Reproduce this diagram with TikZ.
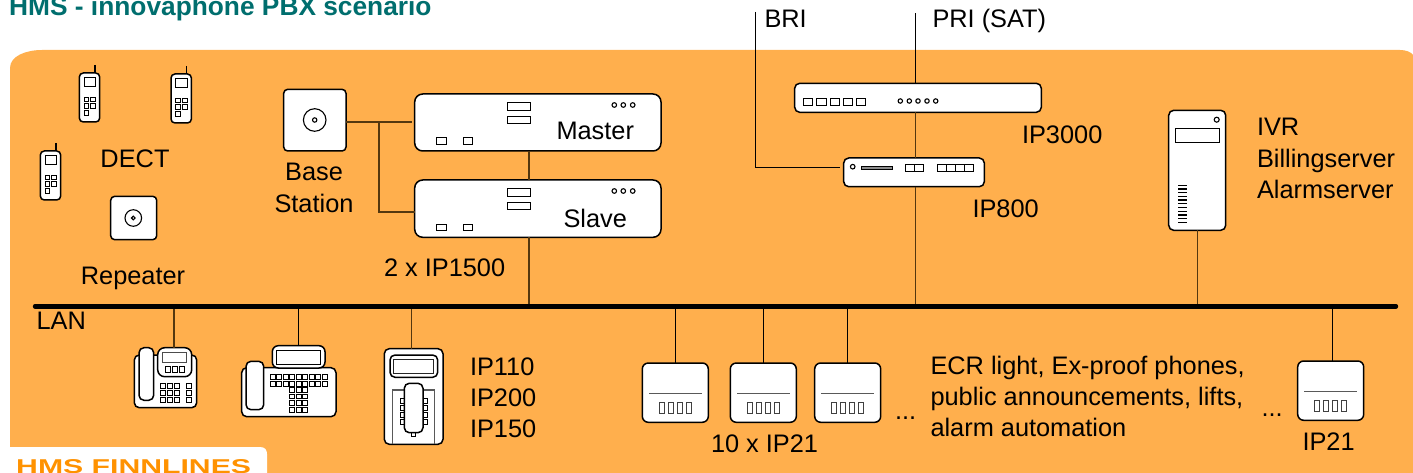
\documentclass[tikz,border=0pt]{standalone}
\usepackage{graphicx}
\usepackage{fontspec}
\setmainfont{Liberation Sans}
\usetikzlibrary{fit}
\definecolor{panelorange}{HTML}{FFAF4D}
\definecolor{titleteal}{HTML}{006E6E}
\definecolor{tabtext}{HTML}{FF9200}
\definecolor{wirebrown}{HTML}{53370F}
\tikzset{
  devbox/.style={draw=black,fill=white,line width=1.5pt,rounded corners=#1,inner sep=0pt,outer sep=0pt},
  devbox/.default=7pt,
  lbl/.style={anchor=base west,inner sep=0pt,outer sep=0pt,font=\fontsize{25.35}{31}\selectfont,text=black},
  clbl/.style={lbl,anchor=base},
  wire/.style={draw=black,line width=1pt},
  brownwire/.style={draw=wirebrown,line width=1.4pt},
  lanline/.style={draw=black,line width=4.4pt,line cap=round},
  keybox/.style={draw=black,fill=white,line width=1pt},
  ledring/.style={draw=black,fill=white,line width=1.1pt},
  thingray/.style={draw=black!65,line width=1.4pt}
}
% (x1,y1,x2,y2) helper for small rectangles
\newcommand{\kb}[4]{\draw[keybox] (#1,#2) rectangle (#3,#4);}
\newcommand{\handset}[3]{% name, x, y : top left of DECT phone
  \begin{scope}[shift={(#2,#3)}]
    \draw[line width=1.2pt] (15.7,-8) -- (15.7,1);
    \node[devbox=4pt,fit={(0,0)(20.4,49)}] (#1) {};
    \kb{4.7}{4.7}{16.4}{13.7}
    \foreach \yy in {24.3,31,37.7}{\kb{4.7}{\yy}{9.4}{\yy+4.4}}
    \foreach \yy in {24.3,31}{\kb{11.4}{\yy}{16}{\yy+4.4}}
  \end{scope}}
\newcommand{\rackunit}[3]{% name, top y, bottom y
  \node[devbox=8pt,fit={(414.7,#2)(661,#3)}] (#1) {};
  \begin{scope}[shift={(0,#2)}]
    \kb{507}{8.7}{530.3}{16.3}
    \kb{507}{22.3}{530.3}{30}
    \kb{436.7}{44}{446.3}{50.3}
    \kb{463.3}{44}{472.7}{50.3}
    \foreach \xx in {614.3,623.3,632.7}{\draw[ledring] (\xx,11) circle (2.3);}
  \end{scope}}
\newcommand{\gateway}[3]{% name, x, y
  \node[devbox=6pt,fit={(#2,#3)(#2+66,#3+59.3)}] (#1) {};
  \begin{scope}[shift={(#2,#3)}]
    \draw[thingray] (6.7,30.3) -- (59.4,30.3);
    \foreach \xx in {17,26,34.7,43.7}{\draw[draw=black!75,fill=white,line width=1pt] (\xx,39.3) rectangle (\xx+5,50.7);}
  \end{scope}}
\begin{document}
\begin{tikzpicture}[x=1pt,y=-1pt]
\useasboundingbox (0,0) rectangle (1413,473);
% panel
\fill[panelorange] (10,473) -- (10,68) .. controls (10,56) and (26,50) .. (42,50) -- (1400,50) .. controls (1406,50) and (1411,52) .. (1413,55) -- (1413,473) -- cycle;
\fill[white] (0,473) -- (0,447) -- (260,447) .. controls (265,447) and (267,450) .. (267,454) -- (267,473) -- cycle;
% title and tab
\node[anchor=base west,inner sep=0pt,text=titleteal,font=\bfseries\fontsize{26.3}{30}\selectfont] (title) at (9,15.3) {HMS - innovaphone PBX scenario};
\node[anchor=base west,inner sep=0pt,text=tabtext,font=\bfseries\fontsize{20}{24}\selectfont] (tab) at (16,473.3) {\scalebox{1.51}[1]{HMS FINNLINES}};

% DECT
\handset{dectA}{79.3}{73}
\handset{dectB}{171}{74}
\handset{dectC}{40.3}{151}
\node[clbl] (dectlbl) at (135,168) {DECT};
\node[devbox=4pt,fit={(110.7,196.3)(156.7,239.7)}] (repeater) {};
\draw[line width=1.1pt] (133.3,218) circle (8.3);
\draw[line width=1.1pt] (133.3,218) circle (1.8);
\node[clbl] (repeaterlbl) at (133,284) {Repeater};
% Base station
\node[devbox=4pt,fit={(283.7,89.3)(346,151)}] (base) {};
\draw[line width=1.1pt] (314.7,120) circle (11.3);
\draw[line width=1.1pt] (314.7,120) circle (2.2);
\node[clbl] (baselbl1) at (314,181) {Base};
\node[clbl] (baselbl2) at (314,212) {Station};
% IP1500
\rackunit{master}{94}{151}
\rackunit{slave}{180}{237.3}
\node[lbl] (masterlbl) at (556.5,139.2) {Master};
\node[lbl] (slavelbl) at (563.5,227.2) {Slave};
\node[lbl] (ip1500lbl) at (384,276) {2 x IP1500};
% IP3000
\node[devbox=5pt,fit={(794.7,83.3)(1041.3,112.3)}] (ipthree) {};
\foreach \xx in {803.3,816.7,830,843.3,856.3}{\kb{\xx}{98.7}{\xx+9.3}{105.3}}
\foreach \xx in {900.3,909.3,918,927,935.7}{\draw[ledring] (\xx,101) circle (2.2);}
\node[lbl] (ipthreelbl) at (1022,143.3) {IP3000};
% IP800
\node[devbox=5pt,fit={(843.7,158)(984.3,186.7)}] (ipeight) {};
\draw[ledring] (852.7,166.7) circle (2.3);
\draw[draw=black,fill=black!45,line width=.8pt] (861,166.3) rectangle (892.7,169.7);
\kb{905}{165}{923.3}{171.7}
\draw[line width=1pt] (914,165) -- (914,171.7);
\kb{937.7}{165}{973.7}{171.7}
\foreach \xx in {946.7,955.7,964.7}{\draw[line width=1pt] (\xx,165) -- (\xx,171.7);}
\node[lbl] (ipeightlbl) at (972.5,217.3) {IP800};
% labels top
\node[lbl] (brilbl) at (764.5,27.8) {BRI};
\node[lbl] (prilbl) at (932.5,27.8) {PRI (SAT)};
% server
\node[devbox=5pt,fit={(1168.7,110.3)(1225.7,230.3)}] (server) {};
\draw[ledring] (1216.7,119.7) circle (2.5);
\kb{1175.3}{128.3}{1219}{142.7}
\foreach \yy in {0,...,10}{\draw[line width=1.3pt] (1178,185.3+\yy*3.7) -- (1187,185.3+\yy*3.7);}
\node[lbl] (ivrlbl) at (1257,135.7) {IVR};
\node[lbl] (billlbl) at (1257,167.3) {Billingserver};
\node[lbl] (alarmlbl) at (1257,198.7) {Alarmserver};

% LAN
\coordinate (lanL) at (35,306.3);
\coordinate (lanR) at (1396,306.3);
\node[lbl] (lanlbl) at (36.5,329) {LAN};

% phone A
\node[devbox=5pt,fit={(134.3,355)(196.7,407.7)}] (phAbody) {};
\node[devbox=7pt,fit={(157.7,347.7)(191.7,376.7)}] (phA) {};
\node[devbox=5pt,fit={(139,347.7)(153.7,400.3)}] (phAhand) {};
\draw[draw=black!70,line width=1pt] (162.7,352.7) rectangle (186.7,362.3);
\foreach \xx in {165,172,179}{\kb{\xx}{366.7}{\xx+5.3}{372}}
\foreach \yy in {383.3,390.3,397.3}{
  \foreach \xx in {160.3,167.3,174.3}{\kb{\xx}{\yy}{\xx+5.3}{\yy+5.1}}
  \kb{186.3}{\yy}{191.3}{\yy+5.1}}
% phone B
\node[devbox=5pt,fit={(241.7,367.7)(336,416.7)}] (phBbody) {};
\node[devbox=6pt,fit={(272.3,345.7)(325,368)}] (phB) {};
\node[devbox=5pt,fit={(246,361.3)(263.7,409.7)}] (phBhand) {};
\draw[line width=1pt] (276.7,350.3) rectangle (320.7,364);
\foreach \yy in {374,381}{\foreach \ii in {0,...,8}{\kb{270+\ii*6.55}{\yy}{270+\ii*6.55+5}{\yy+5}}}
\foreach \yy in {387.3,394,400.7,407.3}{\foreach \xx in {289.5,296.2,302.9}{\kb{\xx}{\yy}{\xx+5}{\yy+4.8}}}
% phone C
\node[devbox=5pt,fit={(384.3,348.7)(443,444.3)}] (phC) {};
\node[devbox=5pt,fit={(390,355)(437.7,377.3)}] (phCdisp) {};
\draw[draw=black!85,line width=1pt] (393.3,359.3) rectangle (433.7,373.3);
\draw[thingray] (392.7,444) -- (392.7,390) -- (434.7,390) -- (434.7,444);
\foreach \yy in {398.3,405,412,419}{\kb{400.7}{\yy}{406}{\yy+5}\kb{422}{\yy}{427}{\yy+5}}
\kb{411}{431}{415.7}{436.5}
\node[devbox=5pt,fit={(404.3,383.3)(423,432.7)}] (phChand) {};
\node[lbl] (ip110lbl) at (470,375) {IP110};
\node[lbl] (ip200lbl) at (470,406) {IP200};
\node[lbl] (ip150lbl) at (470,437) {IP150};

% IP21
\gateway{gwA}{642.3}{363}
\gateway{gwB}{730.3}{363}
\gateway{gwC}{814.7}{363}
\gateway{gwD}{1297.7}{361}
\node[lbl] (dotsA) at (895,419.3) {...};
\node[lbl] (dotsB) at (1261.5,416.7) {...};
\node[lbl] (tenlbl) at (711,452.7) {10 x IP21};
\node[lbl] (ip21lbl) at (1302.5,450) {IP21};
\node[lbl] (ecrA) at (930.5,374.5) {ECR light, Ex-proof phones,};
\node[lbl] (ecrB) at (930.5,405.5) {public announcements, lifts,};
\node[lbl] (ecrC) at (930.5,436.5) {alarm automation};

% connectors
\coordinate (briTop) at (755.7,12);
\coordinate (priTop) at (915.3,13.5);
\coordinate (briEnd) at (840,167.7);
\coordinate (briCorner) at (755.7,167.7);
\coordinate (baseOut) at (346,122);
\coordinate (masterIn) at (412,122);
\coordinate (branch) at (379,122);
\coordinate (slaveIn) at (414.7,212);
\draw[brownwire] (base.east |- baseOut) -- (masterIn);
\draw[brownwire] (branch) -- (branch |- slaveIn) -- (slave.west |- slaveIn);
\draw[brownwire] (master.south -| 529,0) -- (slave.north -| 529,0);
\draw[brownwire] (slave.south -| 529,0) -- (lanL -| 529,0);
\draw[wire] (briTop) -- (briCorner) -- (briEnd);
\draw[wire] (priTop) -- (ipthree.north -| priTop);
\draw[brownwire] (ipthree.south -| priTop) -- (ipeight.north -| priTop);
\draw[brownwire] (ipeight.south -| priTop) -- (lanL -| priTop);
\draw[brownwire] (server.south -| 1197.7,0) -- (lanL -| 1197.7,0);
\draw[brownwire] (lanL -| 174,0) -- (phA.north -| 174,0);
\draw[wire] (lanL -| 298.3,0) -- (phB.north -| 298.3,0);
\draw[brownwire] (lanL -| 411.7,0) -- (phC.north -| 411.7,0);
\draw[wire] (lanL -| 675.3,0) -- (gwA.north -| 675.3,0);
\draw[wire] (lanL -| 763.3,0) -- (gwB.north -| 763.3,0);
\draw[wire] (lanL -| 847.7,0) -- (gwC.north -| 847.7,0);
\draw[wire] (lanL -| 1332.3,0) -- (gwD.north -| 1332.3,0);
\draw[lanline] (lanL) -- (lanR);
\end{tikzpicture}
\end{document}
